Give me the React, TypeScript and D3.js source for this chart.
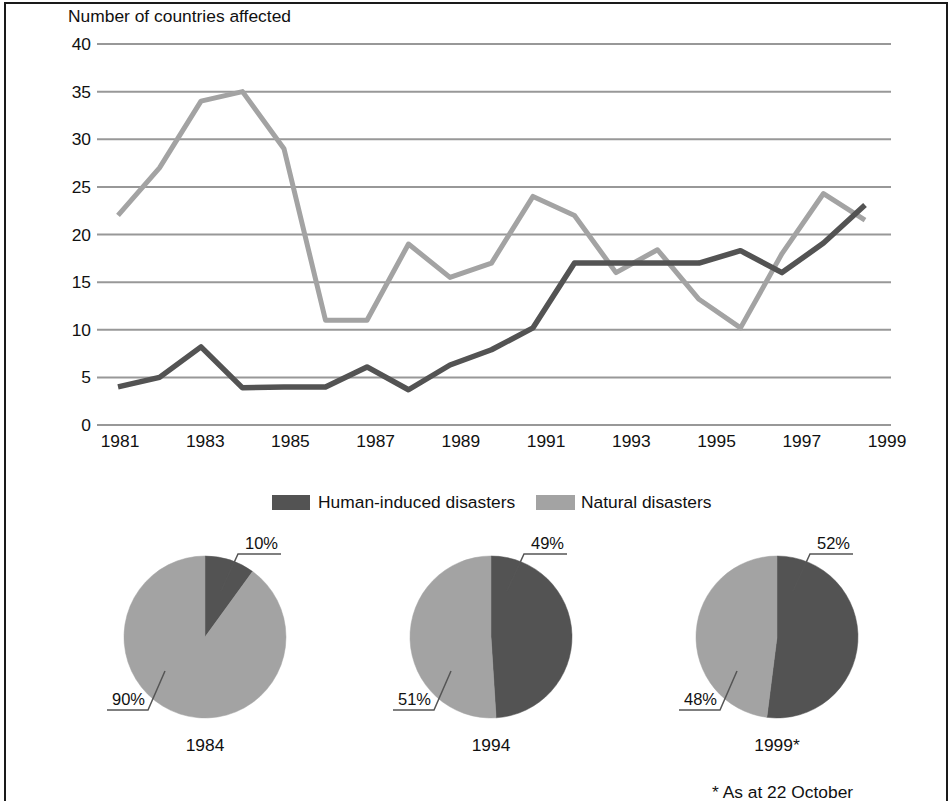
import React from "react";
import * as d3 from "d3";

const years = [1981,1982,1983,1984,1985,1986,1987,1988,1989,1990,1991,1992,1993,1994,1995,1996,1997,1998,1999];
const humanInduced = [4,5,8.2,3.9,4,4,6.1,3.7,6.3,7.9,10.2,17,17,17,17,18.3,16,19.1,23.1];
const natural = [22,27,34,35,29,11,11,19,15.5,17,24,22,16,18.4,13.2,10.2,18,24.3,21.5];
const yTicks = [0,5,10,15,20,25,30,35,40];
const xTickLabels = [1981,1983,1985,1987,1989,1991,1993,1995,1997,1999];
const pieYears = ["1984","1994","1999*"];
const pieHuman = [10,49,52];
const pieNatural = [90,51,48];
const legendLabels = ["Human-induced disasters","Natural disasters"];

const DARK = "#535353";
const LIGHT = "#a3a3a3";
const FONT = "'Liberation Sans', Arial, Helvetica, sans-serif";
const FS = 17.4;

export default function App() {
  const W = 952, H = 801;
  const xData = d3.scaleLinear().domain([1981, 1999]).range([118, 865]);
  const xTick = d3.scaleLinear().domain([1981, 1999]).range([120, 887]);
  const y = d3.scaleLinear().domain([0, 40]).range([425, 44]);
  const line = d3.line<number>().x((_, i) => xData(years[i])).y(d => y(d));

  const pieCenters = d3.scalePoint<string>().domain(pieYears).range([205, 777]);
  const pieGen = d3.pie<number>().sort(null).value(d => d);
  const R = 81;
  const arc = d3.arc<d3.PieArcDatum<number>>().innerRadius(0).outerRadius(R);
  const cy = 637;

  return (
    <svg width={W} height={H} style={{ position: "absolute", left: 0, top: 0, background: "#fff" }} fontFamily={FONT}>
      <rect x={0} y={0} width={W} height={H} fill="#fff" />
      <rect x={5} y={3} width={942} height={810} fill="none" stroke="#1a1a1a" strokeWidth={2} />
      <text x={68} y={22} fontSize={FS} fill="#111">Number of countries affected</text>
      {yTicks.map(t => (
        <g key={t}>
          <line x1={97} x2={891} y1={y(t)} y2={y(t)} stroke="#989898" strokeWidth={2} />
          <text x={91} y={y(t)} dy="0.35em" textAnchor="end" fontSize={FS} fill="#111">{t}</text>
        </g>
      ))}
      {xTickLabels.map(t => (
        <text key={t} x={xTick(t)} y={447} textAnchor="middle" fontSize={FS} fill="#111">{t}</text>
      ))}
      <path d={line(natural) || ""} fill="none" stroke={LIGHT} strokeWidth={5} strokeLinejoin="round" />
      <path d={line(humanInduced) || ""} fill="none" stroke={DARK} strokeWidth={5.5} strokeLinejoin="round" />

      {/* legend */}
      <rect x={272} y={495} width={38} height={15} fill={DARK} />
      <text x={318} y={508} fontSize={FS} fill="#111">{legendLabels[0]}</text>
      <rect x={536} y={495} width={39} height={15} fill={LIGHT} />
      <text x={581} y={508} fontSize={FS} fill="#111">{legendLabels[1]}</text>

      {pieYears.map((yr, i) => {
        const cx = pieCenters(yr) as number;
        const arcs = pieGen([pieHuman[i], pieNatural[i]]);
        return (
          <g key={yr}>
            <g transform={`translate(${cx},${cy})`}>
              {arcs.map((a, j) => (
                <path key={j} d={arc(a) || ""} fill={j === 0 ? DARK : LIGHT} stroke={j === 0 ? DARK : LIGHT} strokeWidth={0.5} />
              ))}
              <polyline points={`16,-46 33,-83 76,-83`} fill="none" stroke="#555" strokeWidth={1.5} />
              <text x={40} y={-88} fontSize={16.5} fill="#111">{pieHuman[i]}%</text>
              <polyline points={`-40,34 -57,73 -98,73`} fill="none" stroke="#555" strokeWidth={1.5} />
              <text x={-60} y={68} textAnchor="end" fontSize={16.5} fill="#111">{pieNatural[i]}%</text>
            </g>
            <text x={cx} y={751} textAnchor="middle" fontSize={FS} fill="#111">{yr}</text>
          </g>
        );
      })}
      <text x={712} y={798} fontSize={FS} fill="#111">* As at 22 October</text>
    </svg>
  );
}
